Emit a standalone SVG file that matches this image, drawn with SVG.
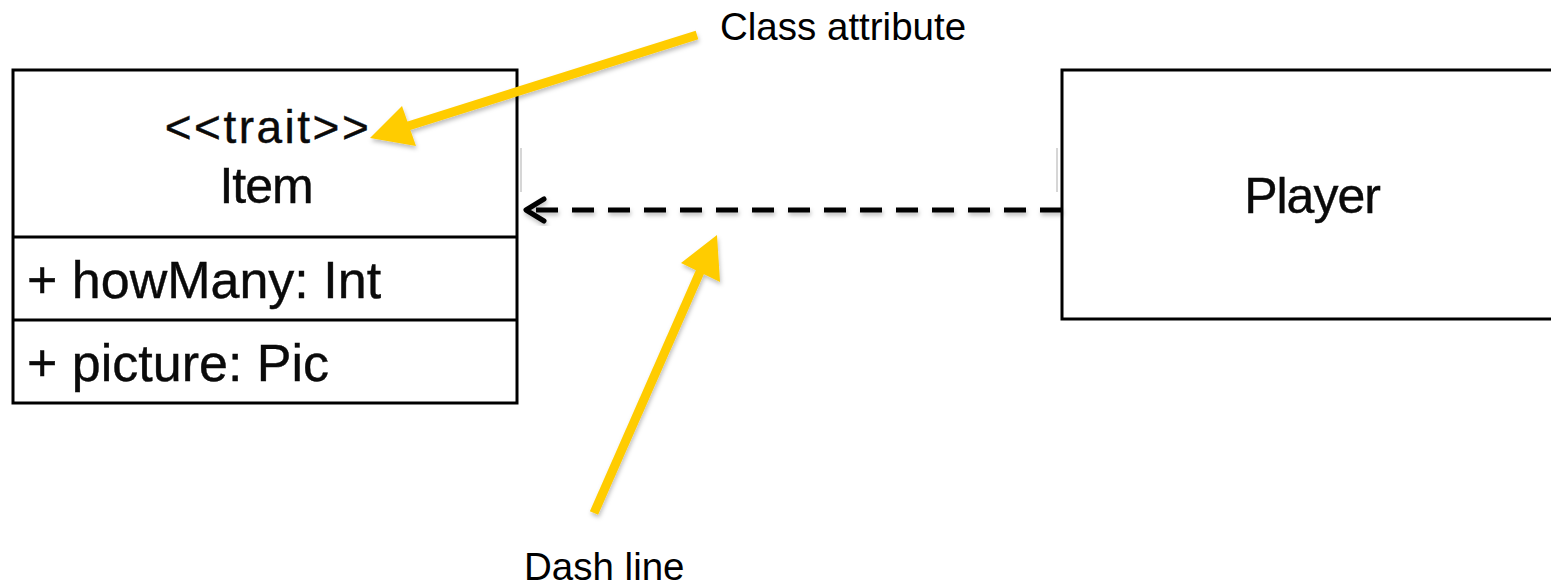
<svg xmlns="http://www.w3.org/2000/svg" width="1551" height="585" viewBox="0 0 1551 585">
<style>
.box{fill:#fff;stroke:#000;stroke-width:3}
.t{font-family:"Liberation Sans",Arial,sans-serif;fill:#0a0a0a;stroke:#0a0a0a;stroke-width:0.4}
.ann{font-family:"Liberation Sans",Arial,sans-serif;fill:#000;font-size:38.5px}
.conn{fill:none;stroke:#000;stroke-width:5}
.yel{fill:none;stroke:#FFCC00;stroke-width:9}
.yelh{fill:#FFCC00}
.ghost{stroke:#c8c8c8;stroke-width:1.5}
</style>
<defs>
<filter id="sh" x="-20%" y="-20%" width="140%" height="140%">
<feDropShadow dx="1" dy="3" stdDeviation="2" flood-color="#000" flood-opacity="0.25"/>
</filter>
</defs>
<rect width="1551" height="585" fill="#fff"/>
<g id="item">
<rect class="box" x="13" y="70" width="504" height="333"/>
<line x1="13" y1="237" x2="517" y2="237" stroke="#000" stroke-width="3"/>
<line x1="13" y1="320" x2="517" y2="320" stroke="#000" stroke-width="3"/>
<text class="t" x="268" y="143" font-size="46" text-anchor="middle" letter-spacing="2.5">&lt;&lt;trait&gt;&gt;</text>
<text class="t" x="266" y="203" font-size="50" text-anchor="middle" letter-spacing="-1">Item</text>
<text class="t" x="27" y="298" font-size="52">+ howMany: Int</text>
<text class="t" x="27" y="381" font-size="52">+ picture: Pic</text>
</g>
<g id="player">
<rect class="box" x="1062" y="70" width="500" height="249"/>
<text class="t" x="1312" y="213" font-size="50" text-anchor="middle" letter-spacing="-1">Player</text>
</g>
<g id="connectors">
<line class="ghost" x1="521" y1="148" x2="521" y2="192"/>
<line class="ghost" x1="1057" y1="148" x2="1057" y2="192"/>
<g filter="url(#sh)">
<line class="conn" x1="1062" y1="210" x2="530" y2="210" stroke-dasharray="22 14"/>
<polyline class="conn" points="544,199 526,210 544,221" stroke-linecap="round" stroke-linejoin="round"/>
</g>
</g>
<g id="annotations" filter="url(#sh)">
<line class="yel" x1="697" y1="35" x2="405" y2="127"/>
<polygon class="yelh" points="370,138 402,106 416,146"/>
<line class="yel" x1="594" y1="513" x2="703" y2="265"/>
<polygon class="yelh" points="717,235 681,263 720,282"/>
</g>
<text id="lbl-class" class="ann" x="720" y="40">Class attribute</text>
<text id="lbl-dash" class="ann" x="524" y="580">Dash line</text>
</svg>
